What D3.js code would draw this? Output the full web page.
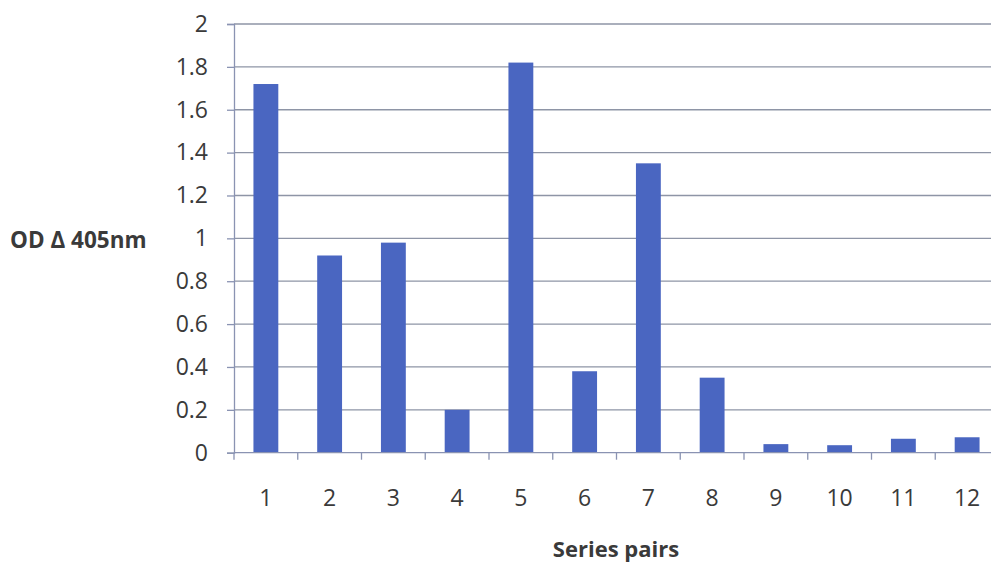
<!DOCTYPE html>
<html>
<head>
<meta charset="utf-8">
<script src="https://cdn.jsdelivr.net/npm/d3@7"></script>
<style>
  html, body { margin: 0; padding: 0; background: #fff; }
  svg { display: block; }
</style>
</head>
<body>
<svg id="chart" width="991" height="563"></svg>
<script>
// Series pairs and their OD change at 405 nm
const pairs = ["1", "2", "3", "4", "5", "6", "7", "8", "9", "10", "11", "12"];
const odValues = [1.72, 0.92, 0.98, 0.2, 1.82, 0.38, 1.35, 0.35, 0.04, 0.035, 0.065, 0.072];
const yTicks = [0, 0.2, 0.4, 0.6, 0.8, 1, 1.2, 1.4, 1.6, 1.8, 2];

const svg = d3.select("#chart");
const margin = { left: 234, top: 24 };
const plotW = 765, plotH = 428.7;
const font = "'Open Sans', Lato, sans-serif";
const textColor = "#3a3a3a";
const gridColor = "#8e95a6";
const axisColor = "#8a93b2";
const barColor = "#4a66c1";

const x = d3.scaleBand().domain(pairs).range([0, plotW]).paddingInner(0.61).paddingOuter(0.305);
const xBands = d3.scaleBand().domain(pairs).range([0, plotW]);
const y = d3.scaleLinear().domain([0, 2]).range([plotH, 0]);

const g = svg.append("g").attr("transform", `translate(${margin.left},${margin.top})`);

// horizontal gridlines
g.append("g").selectAll("line").data(yTicks.filter(d => d > 0)).join("line")
  .attr("x1", 0).attr("x2", plotW)
  .attr("y1", d => y(d)).attr("y2", d => y(d))
  .attr("stroke", gridColor).attr("stroke-width", 1.3);

// bars
g.append("g").selectAll("rect").data(pairs).join("rect")
  .attr("x", (d) => x(d))
  .attr("width", x.bandwidth())
  .attr("y", (d, i) => y(odValues[i]))
  .attr("height", (d, i) => y(0) - y(odValues[i]))
  .attr("fill", barColor);

// y axis
const yAxis = g.append("g")
  .call(d3.axisLeft(y).tickValues(yTicks).tickSize(7).tickPadding(19)
    .tickFormat(d => String(+d.toFixed(1))));
yAxis.select(".domain").attr("stroke", axisColor).attr("stroke-width", 1.3);
yAxis.selectAll(".tick line").attr("stroke", axisColor).attr("stroke-width", 1.3);
yAxis.selectAll(".tick text").attr("fill", textColor)
  .style("font-family", font).style("font-size", "23px");

// x axis with ticks between categories
const xAxisG = g.append("g").attr("transform", `translate(0,${plotH})`);
xAxisG.append("line").attr("x1", 0).attr("x2", plotW).attr("y1", 0).attr("y2", 0)
  .attr("stroke", axisColor).attr("stroke-width", 1.3);
xAxisG.selectAll("line.sep").data(d3.range(pairs.length + 1)).join("line")
  .attr("class", "sep")
  .attr("x1", i => i * xBands.step()).attr("x2", i => i * xBands.step())
  .attr("y1", 0).attr("y2", 7)
  .attr("stroke", axisColor).attr("stroke-width", 1.3);
xAxisG.selectAll("text").data(pairs).join("text")
  .attr("x", d => xBands(d) + xBands.bandwidth() / 2)
  .attr("y", 53)
  .attr("text-anchor", "middle")
  .attr("fill", textColor)
  .style("font-family", font).style("font-size", "23px")
  .text(d => d);

// axis titles
svg.append("text")
  .attr("x", 10).attr("y", 248)
  .attr("fill", textColor)
  .style("font-family", font).style("font-size", "22.5px").style("font-weight", "bold")
  .text("OD Δ 405nm");

svg.append("text")
  .attr("x", 616).attr("y", 557)
  .attr("text-anchor", "middle")
  .attr("fill", textColor)
  .style("font-family", font).style("font-size", "22px").style("font-weight", "bold")
  .text("Series pairs");
</script>
</body>
</html>
